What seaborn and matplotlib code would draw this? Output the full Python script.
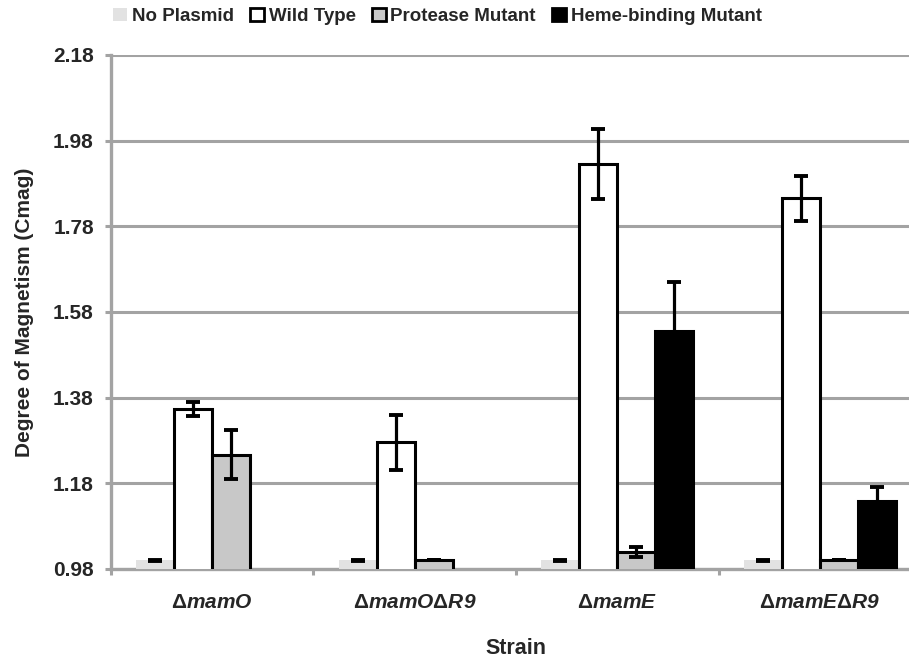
import numpy as np
import pandas as pd
import matplotlib
matplotlib.use("Agg")
import matplotlib.pyplot as plt
import seaborn as sns
from matplotlib.patches import Patch

# Strains on the x axis
strains = ["mamO", "mamOR9", "mamE", "mamER9"]
strain_labels = [r"$\Delta$mamO", r"$\Delta$mamO$\Delta$R9",
                 r"$\Delta$mamE", r"$\Delta$mamE$\Delta$R9"]

# Series (mean Cmag and error)
series = ["No Plasmid", "Wild Type", "Protease Mutant", "Heme-binding Mutant"]
no_plasmid = [1.00, 1.00, 1.00, 1.00]
no_plasmid_err = [0.002, 0.002, 0.002, 0.002]
wild_type = [1.354, 1.276, 1.925, 1.845]
wild_type_err = [0.017, 0.064, 0.082, 0.053]
protease = [1.247, 1.000, 1.019, 1.000]
protease_err = [0.058, 0.0, 0.012, 0.0]
heme = [np.nan, np.nan, 1.535, 1.139]
heme_err = [np.nan, np.nan, 0.115, 0.032]

yticks = [0.98, 1.18, 1.38, 1.58, 1.78, 1.98, 2.18]

values = {s: v for s, v in zip(series, [no_plasmid, wild_type, protease, heme])}
errors = {s: e for s, e in zip(series, [no_plasmid_err, wild_type_err, protease_err, heme_err])}

rows = []
for s in series:
    for st, v in zip(strains, values[s]):
        if not np.isnan(v):
            rows.append({"strain": st, "series": s, "value": v})
df = pd.DataFrame(rows)

fills = {"No Plasmid": "#e2e2e2", "Wild Type": "#ffffff",
         "Protease Mutant": "#c8c8c8", "Heme-binding Mutant": "#000000"}
edges = {"No Plasmid": "none", "Wild Type": "black",
         "Protease Mutant": "black", "Heme-binding Mutant": "black"}

sns.set_theme(style="white")
plt.rcParams["font.family"] = ["Liberation Sans", "DejaVu Sans"]
plt.rcParams["font.weight"] = "bold"
plt.rcParams["mathtext.fontset"] = "custom"
plt.rcParams["mathtext.rm"] = "Liberation Sans"
plt.rcParams["mathtext.it"] = "Liberation Sans:italic"
plt.rcParams["mathtext.bf"] = "Liberation Sans:bold"

fig = plt.figure(figsize=(9.09, 6.61), dpi=100)
ax = fig.add_axes([0.1216, 0.1392, 0.892, 0.7776])

sns.barplot(data=df, x="strain", y="value", hue="series", order=strains,
            hue_order=series, palette=fills, width=0.75, gap=0,
            errorbar=None, ax=ax, legend=False, zorder=3)

grid_gray = "#a3a3a3"
for cont, s in zip(ax.containers, series):
    for bar in cont:
        bar.set_edgecolor(edges[s])
        bar.set_linewidth(2.2 if edges[s] != "none" else 0)
        cx = bar.get_x() + bar.get_width() / 2
        idx = int(round(cx))
        err = errors[s][idx]
        if err is not None and not np.isnan(err):
            ax.errorbar(cx, bar.get_height(), yerr=err, fmt="none",
                        ecolor="black", elinewidth=2.3, capsize=4.8,
                        capthick=2.8, zorder=4)

ax.set_ylim(0.98, 2.18)
ax.set_xlim(-0.5, 3.5)
ax.set_yticks(yticks)
ax.set_yticklabels([f"{t:.2f}" for t in yticks], fontsize=15, fontweight="bold")
ax.set_xticks(range(len(strains)))
ax.set_xticklabels(strain_labels, fontsize=15, fontweight="bold", fontstyle="italic")
ax.set_xticks(np.arange(-0.5, 4.0, 1.0), minor=True)

ax.yaxis.grid(True, color=grid_gray, linewidth=2.2)
ax.set_axisbelow(True)
for side in ["top", "right"]:
    ax.spines[side].set_visible(False)
for side in ["left", "bottom"]:
    ax.spines[side].set_color(grid_gray)
    ax.spines[side].set_linewidth(2.4)

ax.tick_params(axis="y", which="major", left=True, length=4.5, width=2.2,
               color=grid_gray, pad=7.5)
ax.tick_params(axis="x", which="major", bottom=False, length=0, pad=17)
ax.tick_params(axis="x", which="minor", bottom=True, length=4.5, width=2.2,
               color=grid_gray)

ax.set_xlabel("Strain", fontsize=15.5, fontweight="bold", labelpad=19)
ax.set_ylabel("Degree of Magnetism (Cmag)", fontsize=15, fontweight="bold", labelpad=14)

handles = [Patch(facecolor=fills[s], edgecolor=edges[s],
                 linewidth=(2.0 if edges[s] != "none" else 0), label=s)
           for s in series]
fig.legend(handles=handles, loc="upper left", bbox_to_anchor=(0.106, 1.014),
           ncol=4, frameon=False, handlelength=0.75,
           handleheight=0.75, handletextpad=0.25, columnspacing=0.85,
           prop={"weight": "bold", "size": 13.5})

fig.savefig("out.png", dpi=100)
